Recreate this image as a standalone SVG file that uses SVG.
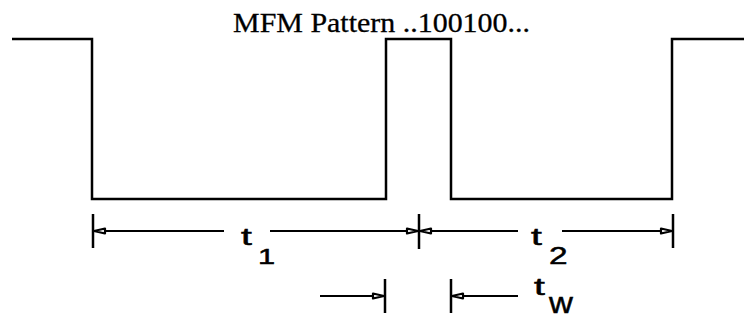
<svg xmlns="http://www.w3.org/2000/svg" width="744" height="320" viewBox="0 0 744 320">
<defs>
<style>
.w{fill:none;stroke:#000;stroke-width:2.5;stroke-linejoin:miter}
.d{fill:none;stroke:#000;stroke-width:2}
.k{fill:none;stroke:#000;stroke-width:2.5}
.t{font-family:"Liberation Sans",Arial,sans-serif;fill:#000;stroke:#000;stroke-width:0.5}
.title{font-family:"Liberation Serif","Times New Roman",serif;font-size:28px;fill:#000;stroke:#000;stroke-width:0.3}
</style>
<marker id="ah" viewBox="0 0 14 10" refX="13" refY="5" markerWidth="14" markerHeight="10" markerUnits="userSpaceOnUse" orient="auto">
<path d="M2,2.5 L13,5 L2,7.5 Z" fill="#fff" stroke="#000" stroke-width="2.2" stroke-linejoin="round"/>
</marker>
</defs>
<rect width="744" height="320" fill="#fff"/>
<text class="title" x="233" y="32" textLength="297" lengthAdjust="spacingAndGlyphs">MFM Pattern ..100100...</text>
<g id="waveform">
<path class="w" d="M12,39 H92 V199 H386 V39 H451 V199 H672 V39 H744"/>
</g>
<g id="connectors">
<line class="k" x1="93" y1="214" x2="93" y2="248"/>
<line class="k" x1="419" y1="214" x2="419" y2="249"/>
<line class="k" x1="673" y1="214" x2="673" y2="248"/>
<line class="k" x1="385" y1="279" x2="385" y2="313"/>
<line class="k" x1="451" y1="279" x2="451" y2="313"/>
<line class="d" x1="224" y1="231" x2="94" y2="231" marker-end="url(#ah)"/>
<line class="d" x1="270" y1="231" x2="418" y2="231" marker-end="url(#ah)"/>
<line class="d" x1="518" y1="231" x2="420" y2="231" marker-end="url(#ah)"/>
<line class="d" x1="562" y1="231" x2="672" y2="231" marker-end="url(#ah)"/>
<line class="d" x1="320" y1="296" x2="384" y2="296" marker-end="url(#ah)"/>
<line class="d" x1="518" y1="296" x2="452" y2="296" marker-end="url(#ah)"/>
</g>
<g id="label-t1">
<text class="t" transform="translate(241,245) scale(1.7,1)" font-size="23">t</text>
<text class="t" transform="translate(258,264) scale(1.4,1)" font-size="22">1</text>
</g>
<g id="label-t2">
<text class="t" transform="translate(531,245) scale(1.7,1)" font-size="23">t</text>
<text class="t" transform="translate(549,264) scale(1.45,1)" font-size="23">2</text>
</g>
<g id="label-tw">
<text class="t" transform="translate(534,295) scale(1.7,1)" font-size="23">t</text>
<text class="t" transform="translate(549,313) scale(1.1,1)" font-size="30" stroke-width="0.2">w</text>
</g>
</svg>
